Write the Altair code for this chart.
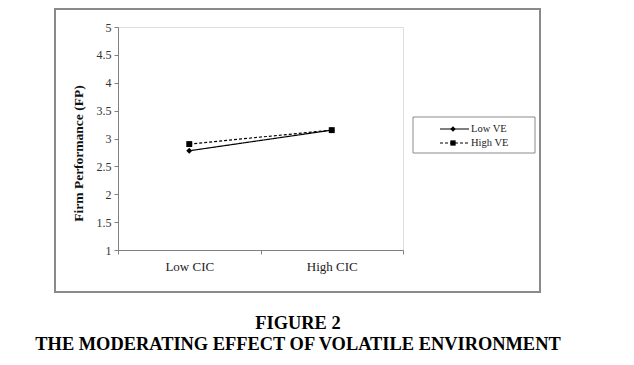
import altair as alt
import pandas as pd

categories = ["Low CIC", "High CIC"]
series_names = ["Low VE", "High VE"]
low_ve = [2.78, 3.15]
high_ve = [2.90, 3.15]
y_ticks = [1, 1.5, 2, 2.5, 3, 3.5, 4, 4.5, 5]
caption_lines = ["FIGURE 2", "THE MODERATING EFFECT OF VOLATILE ENVIRONMENT"]
y_title = "Firm Performance (FP)"

rows = []
for s, vals in zip(series_names, [low_ve, high_ve]):
    for c, v in zip(categories, vals):
        rows.append({"series": s, "cic": c, "fp": v})
df = pd.DataFrame(rows)

FONT = "Liberation Serif"
W, H = 285, 223
n = len(categories)
cat_js = "[" + ",".join("'" + c + "'" for c in categories) + "]"

x_enc = alt.X(
    "xpos:Q",
    scale=alt.Scale(domain=[0, n], nice=False, zero=False),
    axis=alt.Axis(
        values=[i * 0.5 for i in range(2 * n + 1)],
        labelExpr=f"datum.value % 1 != 0 ? {cat_js}[floor(datum.value)] : ''",
        tickOpacity={"condition": {"test": "datum.value % 1 != 0", "value": 0}, "value": 1},
        grid=False, title=None, tickSize=4, labelPadding=6,
        labelFont=FONT, labelFontSize=13, labelColor="#222",
        domainColor="#808080", tickColor="#808080", labelFlush=False,
    ),
)
y_enc = alt.Y(
    "fp:Q",
    scale=alt.Scale(domain=[1, 5], nice=False, zero=False),
    axis=alt.Axis(
        values=y_ticks, grid=False, title=y_title, tickSize=4, labelPadding=3,
        labelFont=FONT, labelFontSize=12, labelColor="#333",
        titleFont=FONT, titleFontSize=13.5, titleFontWeight="bold", titleColor="#111",
        titlePadding=11, titleY=126, domainColor="#808080", tickColor="#808080",
        labelExpr="datum.value",
    ),
)

base = alt.Chart(df).transform_calculate(
    xpos=f"indexof({cat_js}, datum.cic) + 0.5"
)

lines = base.mark_line(color="black", strokeWidth=1.2).encode(
    x=x_enc, y=y_enc,
    strokeDash=alt.StrokeDash("series:N", scale=alt.Scale(domain=series_names, range=[[1, 0], [3, 2]]), legend=None),
    detail="series:N",
)
points = base.mark_point(filled=True, color="black", opacity=1, size=35).encode(
    x=x_enc, y=y_enc,
    shape=alt.Shape("series:N", scale=alt.Scale(domain=series_names, range=["diamond", "square"]), legend=None),
)

one = alt.Chart(pd.DataFrame({"a": [0]}))

frame = one.mark_rect(fillOpacity=0, stroke="#8a8a8a", strokeWidth=2).encode(
    x=alt.value(-63), x2=alt.value(422), y=alt.value(-18), y2=alt.value(265)
)
legend_box = one.mark_rect(fillOpacity=0, stroke="#8a8a8a", strokeWidth=1).encode(
    x=alt.value(295), x2=alt.value(417), y=alt.value(90), y2=alt.value(126)
)

legend_layers = []
dashes = [[1, 0], [3, 2]]
shapes = ["diamond", "square"]
for i, s in enumerate(series_names):
    ry = 102 + 14 * i
    legend_layers.append(one.mark_rule(color="black", strokeWidth=1.2, strokeDash=dashes[i]).encode(
        x=alt.value(322), x2=alt.value(351), y=alt.value(ry)))
    legend_layers.append(one.mark_point(filled=True, color="black", opacity=1, size=28, shape=shapes[i]).encode(
        x=alt.value(335), y=alt.value(ry)))
    legend_layers.append(one.mark_text(text=s, font=FONT, fontSize=10.5, align="left", baseline="middle", color="#222").encode(
        x=alt.value(353), y=alt.value(ry)))

caption = []
for i, t in enumerate(caption_lines):
    caption.append(one.mark_text(text=t, font=FONT, fontSize=18.4, fontWeight="bold", align="center",
                                 baseline="alphabetic", color="black").encode(
        x=alt.value(180), y=alt.value(302 + 21 * i)))

chart = alt.layer(frame, lines, points, legend_box, *legend_layers, *caption).properties(
    width=W, height=H,
    autosize=alt.AutoSizeParams(type="none"),
    padding={"left": 110, "top": 19, "right": 220, "bottom": 112},
).configure_view(stroke="#a0a0a0", strokeWidth=1).configure(background="white")

chart.save("out.html", embed_options={"renderer": "svg", "actions": False})
